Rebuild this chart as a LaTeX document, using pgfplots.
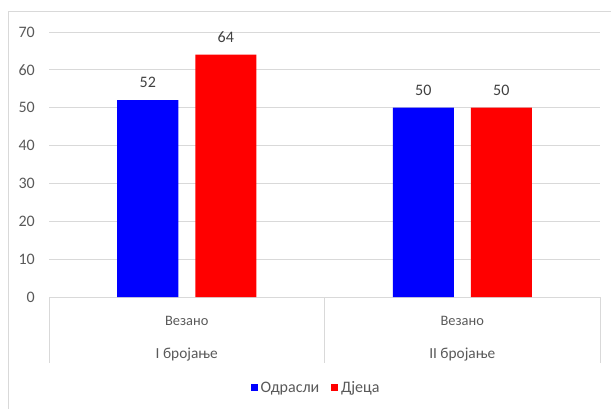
\documentclass[border=0pt]{standalone}
\usepackage{pgfplots}
\pgfplotsset{compat=1.18}
\usepackage{fontspec}
\setmainfont{Carlito}
\definecolor{gridgray}{HTML}{D9D9D9}
\definecolor{txtgray}{HTML}{595959}
\definecolor{lblgray}{HTML}{404040}
\definecolor{barblue}{HTML}{0000FF}
\definecolor{barred}{HTML}{FF0000}

\begin{document}
\begin{tikzpicture}
% 1 px of the reference = 0.75pt
\path[use as bounding box] (0pt,0pt) rectangle (458.25pt,306pt);
\draw[gridgray] (6pt,-1pt) -- (6pt,297.75pt) -- (459pt,297.75pt);
\begin{axis}[
  at={(36.75pt,83.25pt)}, anchor=south west,
  scale only axis,
  width=413.25pt, height=198.75pt,
  ybar=12.75pt, bar width=45.75pt,
  xmin=-0.5, xmax=1.5,
  ymin=0, ymax=70,
  xtick=\empty,
  ytick={0,10,...,70},
  ymajorgrids,
  grid style={gridgray, line width=0.75pt},
  axis line style={draw=none},
  major tick length=0pt,
  /pgf/number format/assume math mode=true,
  yticklabel style={font=\fontsize{12}{14}\selectfont, text=txtgray, inner sep=0pt, xshift=-10.5pt},
  nodes near coords,
  every node near coord/.append style={font=\fontsize{12}{14}\selectfont, text=lblgray, yshift=5.5pt},
  clip=false,
  legend columns=-1,
  legend style={at={(0.4855,-0.343)}, anchor=center, draw=none,
    font=\fontsize{12}{14}\selectfont, text=txtgray,
    /tikz/every even column/.append style={column sep=7pt}},
]
\addplot[fill=barblue, draw=none,
  legend image code/.code={\fill[barblue] (0pt,-2.6pt) rectangle (5.25pt,2.6pt);}]
  coordinates {(0,52) (1,50)};
\addplot[fill=barred, draw=none,
  legend image code/.code={\fill[barred] (0pt,-2.6pt) rectangle (5.25pt,2.6pt);}]
  coordinates {(0,64) (1,50)};
\legend{Одрасли, Дјеца}

% category box
\draw[gridgray, line width=0.75pt] (axis cs:-0.5,0) -- ++(0pt,-49.5pt);
\draw[gridgray, line width=0.75pt] (axis cs:0.5,0) -- ++(0pt,-49.5pt);
\draw[gridgray, line width=0.75pt] (axis cs:1.5,0) -- ++(0pt,-49.5pt);
\node[anchor=base, text=txtgray, font=\fontsize{10.8}{12}\selectfont, inner sep=0pt]
  at ([yshift=-21pt]axis cs:0,0) {Везано};
\node[anchor=base, text=txtgray, font=\fontsize{10.8}{12}\selectfont, inner sep=0pt]
  at ([yshift=-21pt]axis cs:1,0) {Везано};
\node[anchor=base, text=txtgray, font=\fontsize{11.5}{13}\selectfont, inner sep=0pt]
  at ([yshift=-45.75pt]axis cs:0,0) {I бројање};
\node[anchor=base, text=txtgray, font=\fontsize{11.5}{13}\selectfont, inner sep=0pt]
  at ([yshift=-45.75pt]axis cs:1,0) {II бројање};
\end{axis}
\end{tikzpicture}
\end{document}
